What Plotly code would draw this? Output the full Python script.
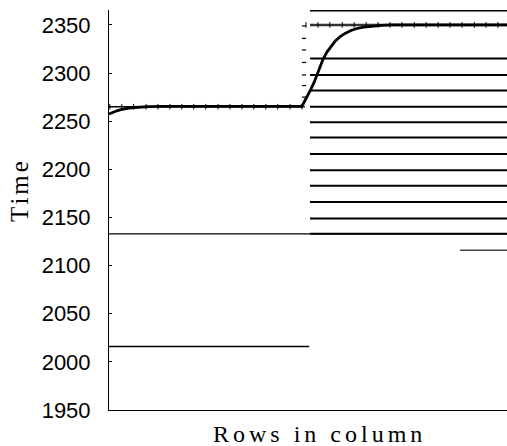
import plotly.graph_objects as go

# ---- data (x in 0..100 "rows" units, y in Time) ----
y_ticks = [1950, 2000, 2050, 2100, 2150, 2200, 2250, 2300, 2350]

right_levels = [2365, 2315, 2298, 2282, 2265, 2249, 2233, 2216, 2199, 2183, 2166, 2149, 2133]
right_x0, right_x1 = 50.5, 100

full_level = 2133          # thin line across whole width
left_low_level = 2016      # left lower line
left_low_x = [0, 50.3]
short_level = 2116         # short line on right
short_x = [88.2, 100]

# staircase (dotted with ticks)
stair_left_level = 2265
stair_left_x = [0, 49.2]
stair_right_level = 2350
stair_right_x = [50.5, 100]
tick_left_x = [0.2, 3.2, 6.2, 9.3, 12.3, 15.3, 18.3, 21.3, 24.3, 27.4, 30.4, 33.4, 36.4, 39.4, 42.4, 45.5, 48.5]
tick_right_x = [49.5, 52.5, 55.5, 58.6, 61.6, 64.6, 67.6, 70.6, 73.6, 76.7, 79.7, 82.7, 85.7, 88.7, 91.8, 94.7, 97.7]
vert_x = 49.0
vert_dash_y = [2275, 2287, 2298, 2311, 2324, 2336, 2349]

# smooth thick curve
curve_x = [0, 1.0, 2.0, 3.0, 4.0, 5.0, 6.5, 8.0, 10.0, 13.0, 17.0, 48.3, 48.8, 49.4, 50.0, 50.7, 51.5, 52.2, 53.0, 53.8, 54.8,
           55.8, 56.8, 58.0, 59.3, 60.8, 62.3, 64.0, 66.0, 68.5, 71.0, 100]
curve_y = [2257.5, 2259.3, 2260.8, 2261.9, 2262.8, 2263.5, 2264.2, 2264.7, 2265.1, 2265.3, 2265.4, 2265.4, 2268, 2272.5, 2277.5, 2283,
           2290, 2298, 2306.5, 2314.5, 2322, 2328, 2333, 2337.5, 2341.2, 2344.2, 2346.3, 2347.8, 2348.8, 2349.5, 2350, 2350]

fig = go.Figure()

# right horizontal lines
rx, ry = [], []
for v in right_levels:
    rx += [right_x0, right_x1, None]
    ry += [v, v, None]
fig.add_trace(go.Scatter(x=rx, y=ry, mode="lines", line=dict(color="black", width=2), hoverinfo="skip"))

# full thin line
fig.add_trace(go.Scatter(x=[0, 100], y=[full_level, full_level], mode="lines",
                         line=dict(color="black", width=1.2), hoverinfo="skip"))
# left lower line
fig.add_trace(go.Scatter(x=left_low_x, y=[left_low_level] * 2, mode="lines",
                         line=dict(color="black", width=1.5), hoverinfo="skip"))
# short right line
fig.add_trace(go.Scatter(x=short_x, y=[short_level] * 2, mode="lines",
                         line=dict(color="#444444", width=1.5), hoverinfo="skip"))

# staircase lines
fig.add_trace(go.Scatter(x=stair_left_x, y=[stair_left_level] * 2, mode="lines",
                         line=dict(color="black", width=1.5), hoverinfo="skip"))
fig.add_trace(go.Scatter(x=stair_right_x, y=[stair_right_level] * 2, mode="lines",
                         line=dict(color="#333333", width=2.5), hoverinfo="skip"))
# tick markers
tick_marker = dict(symbol="line-ns", size=4, line=dict(color="black", width=1))
fig.add_trace(go.Scatter(x=tick_left_x, y=[stair_left_level] * len(tick_left_x), mode="markers",
                         marker=tick_marker, hoverinfo="skip"))
fig.add_trace(go.Scatter(x=tick_right_x, y=[stair_right_level] * len(tick_right_x), mode="markers",
                         marker=tick_marker, hoverinfo="skip"))
fig.add_trace(go.Scatter(x=[vert_x] * len(vert_dash_y), y=vert_dash_y, mode="markers",
                         marker=dict(symbol="line-ew", size=3, line=dict(color="black", width=1.2)),
                         hoverinfo="skip"))

# thick curve
fig.add_trace(go.Scatter(x=curve_x, y=curve_y, mode="lines", line=dict(color="black", width=2.8),
                         hoverinfo="skip"))

fig.update_layout(
    width=507, height=446,
    margin=dict(l=109, r=0, t=10, b=36),
    plot_bgcolor="white", paper_bgcolor="white",
    showlegend=False,
    xaxis=dict(range=[0, 100], showgrid=False, zeroline=False, showticklabels=False,
               ticks="", showline=True, linecolor="black", linewidth=1),
    yaxis=dict(range=[1950, 2365.5], showgrid=False, zeroline=False,
               tickvals=y_ticks, ticktext=[str(v) for v in y_ticks],
               ticks="inside", ticklen=3, tickcolor="black", tickwidth=1,
               showline=True, linecolor="black", linewidth=1,
               tickfont=dict(family="Liberation Sans, Arial, sans-serif", size=22, color="black"),
               ticklabelstandoff=13),
    annotations=[
        dict(text='<span style="letter-spacing:4px">Rows in column</span>',
             xref="paper", yref="paper", x=0.528, y=-0.06, xanchor="center", yanchor="middle",
             showarrow=False, font=dict(family="Liberation Serif, serif", size=24, color="black")),
        dict(text='<span style="letter-spacing:3px">Time</span>',
             xref="paper", yref="paper", x=(20 - 109) / 398, y=(410 - 190) / 400,
             xanchor="center", yanchor="middle", textangle=-90,
             showarrow=False, font=dict(family="Liberation Serif, serif", size=25, color="black")),
    ],
)

fig.write_html("out.html")
